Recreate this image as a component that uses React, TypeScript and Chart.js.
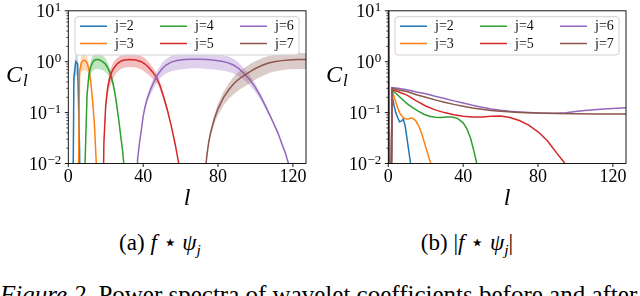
import React, { useEffect, useRef } from "react";
import { Chart, registerables } from "chart.js";

Chart.register(...registerables);

// ---------- shared ----------
const SERIES_LABELS = ["j=2", "j=3", "j=4", "j=5", "j=6", "j=7"];
const SERIES_COLORS = ["#1f77b4", "#ff7f0e", "#2ca02c", "#d62728", "#9467bd", "#8c564b"];
const BAND_COLORS = [
  "rgba(31,119,180,0.3)",
  "rgba(255,127,14,0.3)",
  "rgba(44,160,44,0.3)",
  "rgba(214,39,40,0.3)",
  "rgba(148,103,189,0.3)",
  "rgba(140,86,75,0.3)",
];
const X_TICKS = [0, 40, 80, 120];
const Y_EXPONENTS = [-2, -1, 0, 1];
const X_MIN = 0;
const X_MAX = 127;
const Y_MIN = 0.01;
const Y_MAX = 10;

// ---------- panel (a): f * psi_j ----------
const A_L_J2 = [2, 3, 4, 5, 6, 7];
const A_MEAN_J2 = [1e-5, 0.5, 1.0, 0.9, 0.02, 1e-5];
const A_STD_J2 = [0, 0.15, 0.45, 0.4, 0.003, 0];

const A_L_J3 = [5, 6, 7, 8, 9, 10, 11, 12, 13, 14, 15, 16];
const A_MEAN_J3 = [1e-4, 0.65, 0.95, 1.05, 1.05, 0.95, 0.72, 0.4, 0.17, 0.055, 0.009, 1e-5];
const A_STD_J3 = [0, 0.15, 0.33, 0.38, 0.38, 0.3, 0.17, 0.07, 0.02, 0.004, 0, 0];

const A_L_J4 = [8, 9, 10, 11, 12, 13, 14, 15, 16, 17, 18, 19, 20, 21, 22, 23, 24, 25, 26, 27, 28, 29, 30, 31];
const A_MEAN_J4 = [1e-5, 0.012, 0.22, 0.55, 0.8, 0.97, 1.07, 1.1, 1.1, 1.07, 1.02, 0.96, 0.88, 0.77, 0.64, 0.5, 0.36, 0.23, 0.13, 0.07, 0.035, 0.018, 0.007, 1e-5];
const A_STD_J4 = [0, 0.002, 0.04, 0.15, 0.25, 0.32, 0.36, 0.38, 0.38, 0.36, 0.33, 0.3, 0.26, 0.2, 0.15, 0.1, 0.06, 0.03, 0.012, 0.005, 0.002, 0.001, 0, 0];

const A_L_J5 = [18, 19, 20, 21, 22, 23, 24, 26, 28, 30, 33, 36, 39, 41, 43, 45, 47, 49, 51, 53, 55, 57, 58, 59, 60, 61];
const A_MEAN_J5 = [1e-5, 0.025, 0.14, 0.3, 0.46, 0.6, 0.72, 0.9, 1.02, 1.08, 1.1, 1.08, 1.0, 0.9, 0.77, 0.63, 0.5, 0.34, 0.2, 0.11, 0.055, 0.025, 0.016, 0.01, 0.005, 1e-5];
const A_STD_J5 = [0, 0.003, 0.03, 0.09, 0.15, 0.2, 0.24, 0.28, 0.3, 0.31, 0.31, 0.31, 0.3, 0.27, 0.22, 0.16, 0.1, 0.06, 0.03, 0.012, 0.004, 0.001, 0, 0, 0, 0];

const A_L_J6 = [36, 37, 38, 39, 40, 41, 42, 44, 46, 48, 50, 52, 55, 58, 62, 66, 70, 74, 78, 82, 85, 88, 91, 94, 97, 100, 103, 106, 109, 112, 114, 116, 117, 118, 119];
const A_MEAN_J6 = [1e-5, 0.012, 0.025, 0.045, 0.085, 0.13, 0.18, 0.29, 0.42, 0.57, 0.72, 0.85, 0.98, 1.06, 1.1, 1.12, 1.12, 1.1, 1.07, 1.02, 0.96, 0.87, 0.74, 0.58, 0.44, 0.31, 0.2, 0.12, 0.07, 0.04, 0.025, 0.016, 0.012, 0.009, 1e-5];
const A_STD_J6 = [0, 0.001, 0.002, 0.005, 0.01, 0.02, 0.03, 0.06, 0.1, 0.15, 0.21, 0.27, 0.33, 0.37, 0.38, 0.38, 0.38, 0.38, 0.37, 0.35, 0.32, 0.28, 0.22, 0.15, 0.1, 0.06, 0.03, 0.014, 0.006, 0.003, 0.001, 0, 0, 0, 0];

const A_L_J7 = [72, 73, 74, 75, 76, 78, 80, 83, 86, 89, 92, 95, 98, 101, 104, 107, 110, 114, 118, 122, 127];
const A_MEAN_J7 = [1e-5, 0.006, 0.014, 0.026, 0.04, 0.075, 0.12, 0.2, 0.29, 0.39, 0.48, 0.57, 0.67, 0.77, 0.86, 0.94, 1.0, 1.05, 1.08, 1.1, 1.1];
const A_STD_J7 = [0, 0.001, 0.002, 0.004, 0.007, 0.015, 0.03, 0.06, 0.1, 0.15, 0.19, 0.23, 0.27, 0.3, 0.33, 0.35, 0.36, 0.37, 0.37, 0.38, 0.38];

// ---------- panel (b): |f * psi_j| ----------
const B_L_J2 = [0, 1, 2, 3, 4, 5, 6, 7, 8, 9, 10, 11, 12, 13];
const B_MEAN_J2 = [30, 1e-5, 0.22, 0.14, 0.1, 0.08, 0.066, 0.068, 0.075, 0.055, 0.031, 0.017, 0.0095, 0.004];

const B_L_J3 = [0, 1, 2, 3, 4, 5, 6, 7, 8, 9, 10, 11, 12, 13, 14, 15, 16, 17, 18, 19, 20, 21, 22, 23, 24, 26];
const B_MEAN_J3 = [30, 1e-5, 0.27, 0.21, 0.16, 0.125, 0.1, 0.088, 0.08, 0.076, 0.075, 0.076, 0.078, 0.077, 0.073, 0.066, 0.057, 0.047, 0.037, 0.028, 0.021, 0.016, 0.012, 0.0095, 0.007, 0.003];

const B_L_J4 = [0, 1, 2, 4, 6, 8, 10, 13, 16, 19, 22, 25, 28, 31, 34, 37, 40, 42, 44, 46, 47, 48, 50];
const B_MEAN_J4 = [30, 1e-5, 0.27, 0.24, 0.205, 0.175, 0.15, 0.125, 0.107, 0.093, 0.085, 0.081, 0.08, 0.082, 0.082, 0.077, 0.063, 0.048, 0.031, 0.016, 0.011, 0.0075, 0.003];

const B_L_J5 = [0, 1, 2, 5, 10, 15, 20, 25, 30, 35, 40, 45, 50, 55, 60, 65, 70, 75, 80, 85, 90, 94, 97, 100];
const B_MEAN_J5 = [30, 1e-5, 0.28, 0.26, 0.22, 0.17, 0.135, 0.113, 0.1, 0.091, 0.085, 0.082, 0.082, 0.085, 0.086, 0.08, 0.07, 0.057, 0.042, 0.028, 0.016, 0.0105, 0.007, 0.004];

const B_L_J6 = [0, 1, 2, 5, 10, 15, 20, 25, 30, 35, 40, 45, 50, 55, 60, 65, 70, 75, 80, 85, 90, 95, 100, 105, 110, 115, 120, 127];
const B_MEAN_J6 = [30, 1e-5, 0.31, 0.3, 0.28, 0.255, 0.235, 0.21, 0.19, 0.17, 0.155, 0.14, 0.128, 0.118, 0.111, 0.106, 0.103, 0.1, 0.098, 0.097, 0.097, 0.099, 0.105, 0.11, 0.114, 0.118, 0.121, 0.125];

const B_L_J7 = [0, 1, 2, 5, 10, 15, 20, 25, 30, 35, 40, 45, 50, 55, 60, 70, 80, 90, 100, 110, 120, 127];
const B_MEAN_J7 = [30, 1e-5, 0.3, 0.28, 0.26, 0.225, 0.2, 0.178, 0.16, 0.145, 0.133, 0.123, 0.116, 0.11, 0.106, 0.101, 0.098, 0.096, 0.095, 0.094, 0.094, 0.094];

type Series = { l: number[]; mean: number[]; std?: number[] };

const PANEL_A: Series[] = [
  { l: A_L_J2, mean: A_MEAN_J2, std: A_STD_J2 },
  { l: A_L_J3, mean: A_MEAN_J3, std: A_STD_J3 },
  { l: A_L_J4, mean: A_MEAN_J4, std: A_STD_J4 },
  { l: A_L_J5, mean: A_MEAN_J5, std: A_STD_J5 },
  { l: A_L_J6, mean: A_MEAN_J6, std: A_STD_J6 },
  { l: A_L_J7, mean: A_MEAN_J7, std: A_STD_J7 },
];
const PANEL_B: Series[] = [
  { l: B_L_J2, mean: B_MEAN_J2 },
  { l: B_L_J3, mean: B_MEAN_J3 },
  { l: B_L_J4, mean: B_MEAN_J4 },
  { l: B_L_J5, mean: B_MEAN_J5 },
  { l: B_L_J6, mean: B_MEAN_J6 },
  { l: B_L_J7, mean: B_MEAN_J7 },
];

// ---------- layout ----------
const CW = 320;
const CH = 215;
const AREA_LEFT = 68.3;
const AREA_RIGHT = 306;
const AREA_TOP = 10.8;
const AREA_BOTTOM = 163.5;
const SERIF = '"Liberation Serif", "Times New Roman", serif';

function buildDatasets(series: Series[]) {
  const ds: any[] = [];
  series.forEach((s, i) => {
    const base = (series.length - i) * 10;
    ds.push({
      label: SERIES_LABELS[i],
      data: s.l.map((l, k) => ({ x: l, y: s.mean[k] })),
      borderColor: SERIES_COLORS[i],
      backgroundColor: SERIES_COLORS[i],
      borderWidth: 1.5,
      pointRadius: 0,
      fill: false,
      tension: 0,
      order: base,
      clip: 0,
    });
    if (s.std) {
      const std = s.std;
      ds.push({
        label: "",
        data: s.l.map((l, k) => ({ x: l, y: s.mean[k] + std[k] })),
        borderColor: "rgba(0,0,0,0)",
        backgroundColor: BAND_COLORS[i],
        borderWidth: 1,
        pointRadius: 0,
        fill: "+1",
        tension: 0,
        order: base + 1,
        clip: 0,
      });
      ds.push({
        label: "",
        data: s.l.map((l, k) => ({ x: l, y: Math.max(s.mean[k] - std[k], 1e-6) })),
        borderColor: "rgba(0,0,0,0)",
        backgroundColor: "rgba(0,0,0,0)",
        borderWidth: 1,
        pointRadius: 0,
        fill: false,
        tension: 0,
        order: base + 2,
        clip: 0,
      });
    }
  });
  return ds;
}

function supText(e: number) {
  return e < 0 ? "\u2212" + Math.abs(e) : String(e);
}

const decorPlugin = {
  id: "decor",
  afterDraw(chart: any) {
    const ctx: CanvasRenderingContext2D = chart.ctx;
    const { left, right, top, bottom } = chart.chartArea;
    const xs = chart.scales.x;
    const ys = chart.scales.y;
    ctx.save();

    // spines
    ctx.strokeStyle = "#000";
    ctx.lineWidth = 0.9;
    ctx.strokeRect(left, top, right - left, bottom - top);

    const seg = (x1: number, y1: number, x2: number, y2: number) => {
      ctx.beginPath();
      ctx.moveTo(x1, y1);
      ctx.lineTo(x2, y2);
      ctx.stroke();
    };

    // x ticks + labels
    ctx.fillStyle = "#000";
    ctx.font = `18px ${SERIF}`;
    ctx.textAlign = "center";
    ctx.textBaseline = "alphabetic";
    X_TICKS.forEach((v) => {
      const px = xs.getPixelForValue(v);
      seg(px, bottom, px, bottom + 3.5);
      ctx.fillText(String(v), px, bottom + 18.5);
    });

    // y minor ticks
    ctx.lineWidth = 0.7;
    for (let e = Y_EXPONENTS[0]; e < Y_EXPONENTS[Y_EXPONENTS.length - 1]; e++) {
      for (let m = 2; m <= 9; m++) {
        const py = ys.getPixelForValue(m * Math.pow(10, e));
        seg(left - 2, py, left, py);
      }
    }
    // y major ticks + labels
    ctx.lineWidth = 0.9;
    Y_EXPONENTS.forEach((e) => {
      const py = ys.getPixelForValue(Math.pow(10, e));
      seg(left - 3.5, py, left, py);
      const s = supText(e);
      ctx.font = `13px ${SERIF}`;
      const sw = ctx.measureText(s).width;
      const supX = left - 3.5 - 3.5 - sw;
      ctx.textAlign = "left";
      ctx.fillText(s, supX, py + 0.5);
      ctx.font = `18px ${SERIF}`;
      ctx.textAlign = "right";
      ctx.fillText("10", supX - 0.5, py + 6);
    });

    // y axis title C_l
    ctx.textAlign = "left";
    ctx.font = `italic 24px ${SERIF}`;
    ctx.fillText("C", 6, 82);
    const cw = ctx.measureText("C").width;
    ctx.font = `italic 17px ${SERIF}`;
    ctx.fillText("l", 6 + cw + 1, 86);

    // x axis title l
    ctx.textAlign = "center";
    ctx.font = `italic 24px ${SERIF}`;
    ctx.fillText("l", (left + right) / 2, 205);

    // legend
    const lx0 = left + 6.7;
    const ly0 = top + 5.9;
    const lw = right - left - 13.7;
    const lh = 38.3;
    const r = 3;
    ctx.beginPath();
    ctx.moveTo(lx0 + r, ly0);
    ctx.lineTo(lx0 + lw - r, ly0);
    ctx.quadraticCurveTo(lx0 + lw, ly0, lx0 + lw, ly0 + r);
    ctx.lineTo(lx0 + lw, ly0 + lh - r);
    ctx.quadraticCurveTo(lx0 + lw, ly0 + lh, lx0 + lw - r, ly0 + lh);
    ctx.lineTo(lx0 + r, ly0 + lh);
    ctx.quadraticCurveTo(lx0, ly0 + lh, lx0, ly0 + lh - r);
    ctx.lineTo(lx0, ly0 + r);
    ctx.quadraticCurveTo(lx0, ly0, lx0 + r, ly0);
    ctx.closePath();
    ctx.fillStyle = "rgba(255,255,255,0.8)";
    ctx.fill();
    ctx.strokeStyle = "#d0d0d0";
    ctx.lineWidth = 1;
    ctx.stroke();

    ctx.font = `14px ${SERIF}`;
    ctx.textAlign = "left";
    ctx.textBaseline = "middle";
    SERIES_LABELS.forEach((lab, i) => {
      const col = Math.floor(i / 2);
      const row = i % 2;
      const x = lx0 + 5 + col * 80;
      const y = ly0 + 9.5 + row * 17.3;
      ctx.strokeStyle = SERIES_COLORS[i];
      ctx.lineWidth = 1.5;
      seg(x, y, x + 27, y);
      ctx.fillStyle = "#111";
      ctx.fillText(lab, x + 35, y + 0.5);
    });

    ctx.restore();
  },
};

function makeConfig(series: Series[]): any {
  return {
    type: "line",
    data: { datasets: buildDatasets(series) },
    options: {
      responsive: false,
      animation: false,
      devicePixelRatio: 1,
      events: [],
      layout: { padding: { left: 0, right: CW - AREA_RIGHT, top: AREA_TOP, bottom: 0 } },
      plugins: { legend: { display: false }, tooltip: { enabled: false } },
      scales: {
        x: {
          type: "linear",
          min: X_MIN,
          max: X_MAX,
          ticks: { display: false },
          grid: { display: false },
          border: { display: false },
          afterFit: (s: any) => {
            s.height = CH - AREA_BOTTOM;
          },
        },
        y: {
          type: "logarithmic",
          min: Y_MIN,
          max: Y_MAX,
          ticks: { display: false },
          grid: { display: false },
          border: { display: false },
          afterFit: (s: any) => {
            s.width = AREA_LEFT;
          },
        },
      },
    },
    plugins: [decorPlugin],
  };
}

export default function App() {
  const refA = useRef<HTMLCanvasElement>(null);
  const refB = useRef<HTMLCanvasElement>(null);

  useEffect(() => {
    const a = new Chart(refA.current as HTMLCanvasElement, makeConfig(PANEL_A));
    const b = new Chart(refB.current as HTMLCanvasElement, makeConfig(PANEL_B));
    return () => {
      a.destroy();
      b.destroy();
    };
  }, []);

  const capStyle: React.CSSProperties = {
    position: "absolute",
    top: 232,
    textAlign: "center",
    font: `23px ${SERIF}`,
    lineHeight: "22px",
    whiteSpace: "nowrap",
    color: "#000",
  };
  const sub: React.CSSProperties = { fontSize: "0.68em", fontStyle: "italic", verticalAlign: "-0.3em", lineHeight: 0 };

  return (
    <div
      style={{
        position: "fixed",
        left: 0,
        top: 0,
        width: 640,
        height: 296,
        overflow: "hidden",
        background: "#fff",
      }}
    >
      <canvas ref={refA} width={CW} height={CH} style={{ position: "absolute", left: 0, top: 0, width: CW, height: CH }} />
      <canvas ref={refB} width={CW} height={CH} style={{ position: "absolute", left: 320, top: 0, width: CW, height: CH }} />
      <div style={{ ...capStyle, left: 0, width: 320 }}>
        (a)&nbsp;<i>f</i> ⋆ <i>ψ</i>
        <span style={sub}>j</span>
      </div>
      <div style={{ ...capStyle, left: 307, width: 320 }}>
        (b)&nbsp;|<i>f</i> ⋆ <i>ψ</i>
        <span style={sub}>j</span>|
      </div>
      <div
        style={{
          position: "absolute",
          left: 0,
          top: 283,
          font: `25px ${SERIF}`,
          lineHeight: "24px",
          whiteSpace: "nowrap",
          color: "#000",
        }}
      >
        <i>Figure 2.</i> Power spectra of wavelet coefficients before and after
      </div>
    </div>
  );
}
